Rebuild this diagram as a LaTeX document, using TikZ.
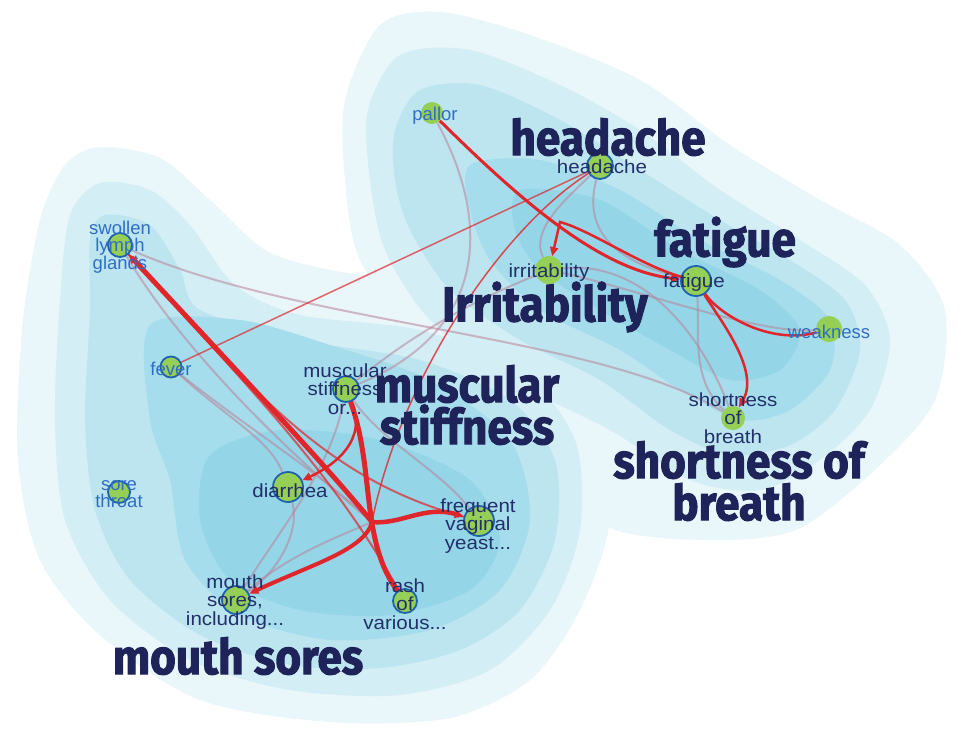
\documentclass[tikz,border=0pt]{standalone}
\usepackage{fontspec}
\setmainfont{Liberation Sans}
\newfontfamily\labfont{Liberation Sans}[FakeStretch=1.08]
\newfontfamily\bigfont{Fira Sans}[FakeStretch=0.9, BoldFeatures={FakeBold=2}]
\usetikzlibrary{arrows.meta}
\definecolor{Lone}{HTML}{E9F6FA}
\definecolor{Ltwo}{HTML}{D4EEF5}
\definecolor{Lthree}{HTML}{BCE5F0}
\definecolor{Lfour}{HTML}{A6DDEC}
\definecolor{Lfive}{HTML}{95D5E8}
\definecolor{navy}{HTML}{22306A}
\definecolor{bigc}{HTML}{1E2459}
\definecolor{lblue}{HTML}{2F6EC3}
\definecolor{gr}{HTML}{95CF55}
\definecolor{ring}{HTML}{1F62AE}
\definecolor{redc}{HTML}{E0252B}
\definecolor{palec}{HTML}{B88398}
\pgfdeclarelayer{blobs}
\pgfdeclarelayer{edges}
\pgfsetlayers{blobs,edges,main}
\begin{document}
\begin{tikzpicture}[x=1pt,y=-1pt,
  gdot/.style={circle, fill=gr, inner sep=0pt, minimum size=#1},
  rdot/.style={gdot=#1, draw=ring, line width=1.8pt},
  lab/.style={font=\labfont\fontsize{19}{18.5}\selectfont, text=navy, align=center, inner sep=0pt},
  llab/.style={font=\fontsize{18.5}{17.5}\selectfont, text=lblue, align=center, inner sep=0pt},
  big/.style={font=\bigfont\bfseries\fontsize{49}{42}\selectfont, text=bigc, align=center, inner sep=0pt},
  redl/.style={draw=redc, line width=#1, line cap=round},
  pale/.style={draw=palec, line width=2pt, opacity=.55},
  tip/.style={-{Triangle[length=9pt,width=8pt]}}]
\useasboundingbox (0,0) rectangle (977,744);

\begin{pgfonlayer}{blobs}
\fill[white] (0,0) rectangle (977,744);
% level 1
\fill[Lone] plot[smooth cycle] coordinates {(100,147) (160,158) (210,200) (265,250) (330,270) (420,285) (520,330) (600,420) (610,520) (580,610) (530,680) (450,718) (330,722) (200,700) (100,635) (40,560) (18,460) (22,330) (40,220) (65,165)};
\fill[Lone] plot[smooth cycle] coordinates {(345,100) (380,25) (440,12) (530,35) (640,80) (730,145) (820,200) (900,245) (945,310) (935,400) (880,465) (800,528) (720,540) (610,528) (540,460) (420,340) (360,260) (345,180)};
% level 2
\fill[Ltwo] plot[smooth cycle] coordinates {(100,183) (150,190) (190,225) (235,285) (300,315) (420,330) (520,370) (575,440) (580,530) (550,610) (490,670) (400,695) (290,690) (190,660) (110,600) (65,520) (55,420) (60,300) (70,215)};
\fill[Ltwo] plot[smooth cycle] coordinates {(368,110) (400,55) (470,50) (560,85) (640,130) (720,190) (800,240) (865,285) (890,340) (870,410) (820,460) (760,490) (690,480) (610,430) (510,380) (430,320) (385,250) (370,180)};
% level 3
\fill[Lthree] plot[smooth cycle] coordinates {(105,215) (150,225) (180,270) (200,310) (300,340) (420,360) (510,400) (555,460) (555,540) (520,610) (460,650) (380,668) (290,665) (200,635) (130,580) (95,510) (85,420) (90,310) (90,240)};
\fill[Lthree] plot[smooth cycle] coordinates {(395,130) (420,90) (480,85) (560,120) (640,170) (720,220) (790,260) (845,300) (860,350) (835,410) (790,445) (730,455) (670,430) (600,380) (520,340) (450,290) (410,230) (395,180)};
% level 4
\fill[Lfour] plot[smooth cycle] coordinates {(150,325) (240,320) (330,345) (430,380) (510,440) (530,520) (500,590) (430,630) (330,640) (240,615) (185,560) (170,480) (150,420)};
\fill[Lfour] plot[smooth cycle] coordinates {(470,165) (540,160) (620,190) (700,240) (780,280) (830,320) (830,370) (790,410) (740,420) (680,390) (620,350) (540,310) (490,260) (470,210)};
% level 5
\fill[Lfive] plot[smooth cycle] coordinates {(210,455) (280,430) (380,440) (470,480) (500,540) (470,590) (390,615) (300,610) (230,580) (200,520)};
\fill[Lfive] plot[smooth cycle] coordinates {(520,190) (600,200) (680,250) (760,290) (800,330) (780,370) (730,380) (670,350) (600,310) (540,270) (515,230)};
\end{pgfonlayer}

% nodes (circles)
\node[rdot=24pt] (sw) at (120,245) {};
\node[rdot=21pt] (fe) at (171,367) {};
\node[rdot=22pt] (st) at (119,492) {};
\node[rdot=30pt] (di) at (288,487) {};
\node[rdot=26pt] (ms) at (346,389) {};
\node[rdot=30pt] (fv) at (479,521) {};
\node[rdot=28pt] (mo) at (236,600) {};
\node[rdot=24pt] (ra) at (405,601) {};
\node[gdot=22pt] (pa) at (432,113) {};
\node[rdot=26pt] (he) at (600,166) {};
\node[gdot=28pt] (ir) at (549,270) {};
\node[rdot=30pt] (fa) at (696,281) {};
\node[gdot=26pt] (we) at (829,329) {};
\node[gdot=24pt] (sb) at (733,418) {};
\coordinate (J) at (372,522);

\begin{pgfonlayer}{edges}
% pale connectors
\draw[pale] (sw) .. controls (300,325) and (600,335) .. (sb);
\draw[pale] (sw) .. controls (170,330) and (260,430) .. (J);
\draw[pale] (fe) .. controls (230,420) and (270,440) .. (di);
\draw[pale] (fe) .. controls (250,430) and (330,480) .. (J);
\draw[pale] (ms) .. controls (330,470) and (280,530) .. (mo);
\draw[pale] (di) .. controls (300,530) and (280,570) .. (mo);
\draw[pale] (ms) .. controls (380,440) and (440,470) .. (fv);
\draw[pale] (J) .. controls (330,540) and (290,555) .. (mo);
\draw[pale] (pa) .. controls (490,220) and (490,330) .. (ms);
\draw[pale] (ir) .. controls (530,230) and (565,200) .. (he);
\draw[pale] (he) .. controls (580,240) and (630,265) .. (fa);
\draw[pale] (ir) .. controls (640,260) and (700,330) .. (sb);
\draw[pale] (ms) .. controls (430,320) and (500,290) .. (ir);
\draw[pale] (fa) .. controls (700,330) and (690,380) .. (sb);
\draw[pale] (we) .. controls (760,335) and (640,290) .. (ir);
% red connectors
\draw[redl=1.5pt, opacity=.7] (he) -- (fe);
\draw[redl=1.5pt, opacity=.8] (he) .. controls (500,230) and (400,380) .. (J);
\draw[redl=2pt, opacity=.7] (sw) .. controls (260,400) and (330,480) .. (fv);
\draw[redl=2pt, opacity=.7] (sw) .. controls (260,400) and (330,470) .. (ra);
\draw[redl=5pt, tip] (J) .. controls (330,470) and (250,385) .. (sw);
\draw[redl=5pt] (ms) .. controls (375,470) and (360,540) .. (ra);
\draw[redl=4.5pt, tip] (J) .. controls (400,525) and (425,505) .. (fv);
\draw[redl=4pt, tip] (J) .. controls (365,550) and (310,565) .. (mo);
\draw[redl=2.5pt, tip] (ms) .. controls (368,440) and (335,465) .. (di);
\draw[redl=3pt, tip] (pa) .. controls (520,200) and (600,270) .. (fa);
\draw[redl=2.5pt, tip] (fa) .. controls (640,265) and (590,230) .. (560,222) -- (ir);
\draw[redl=2.5pt, tip] (fa) .. controls (720,320) and (760,370) .. (sb);
\draw[redl=2.5pt] (fa) .. controls (720,315) and (770,345) .. (we);
\end{pgfonlayer}

% small labels
\node[llab] (swl) at (120,247) {swollen\\lymph\\glands};
\node[llab] (fel) at (171,369) {fever};
\node[llab] (stl) at (119,494) {sore\\throat};
\node[lab] (dil) at (290,491) {diarrhea};
\node[lab] (msl) at (345,389) {muscular\\stiffness\\or...};
\node[lab] (fvl) at (478,526) {frequent\\vaginal\\yeast...};
\node[lab] (mol) at (235,602) {mouth\\sores,\\including...};
\node[lab] (ral) at (405,604) {rash\\of\\various...};
\node[llab] (pal) at (435,116) {pallor};
\node[lab] (hel) at (602,167) {headache};
\node[lab] (irl) at (549,273) {irritability};
\node[lab] (fal) at (694,283) {fatigue};
\node[llab] (wel) at (829,332) {weakness};
\node[lab] (sbl) at (733,418) {shortness\\of\\breath};

% big labels
\node[big] (bhe) at (608,137) {headache};
\node[big] (bfa) at (725,242) {fatigue};
\node[big] (bir) at (545,307) {Irritability};
\node[big] (bms) at (467,405) {muscular\\stiffness};
\node[big] (bsb) at (739,481) {shortness of\\breath};
\node[big] (bmo) at (238,656) {mouth sores};
\end{tikzpicture}
\end{document}
